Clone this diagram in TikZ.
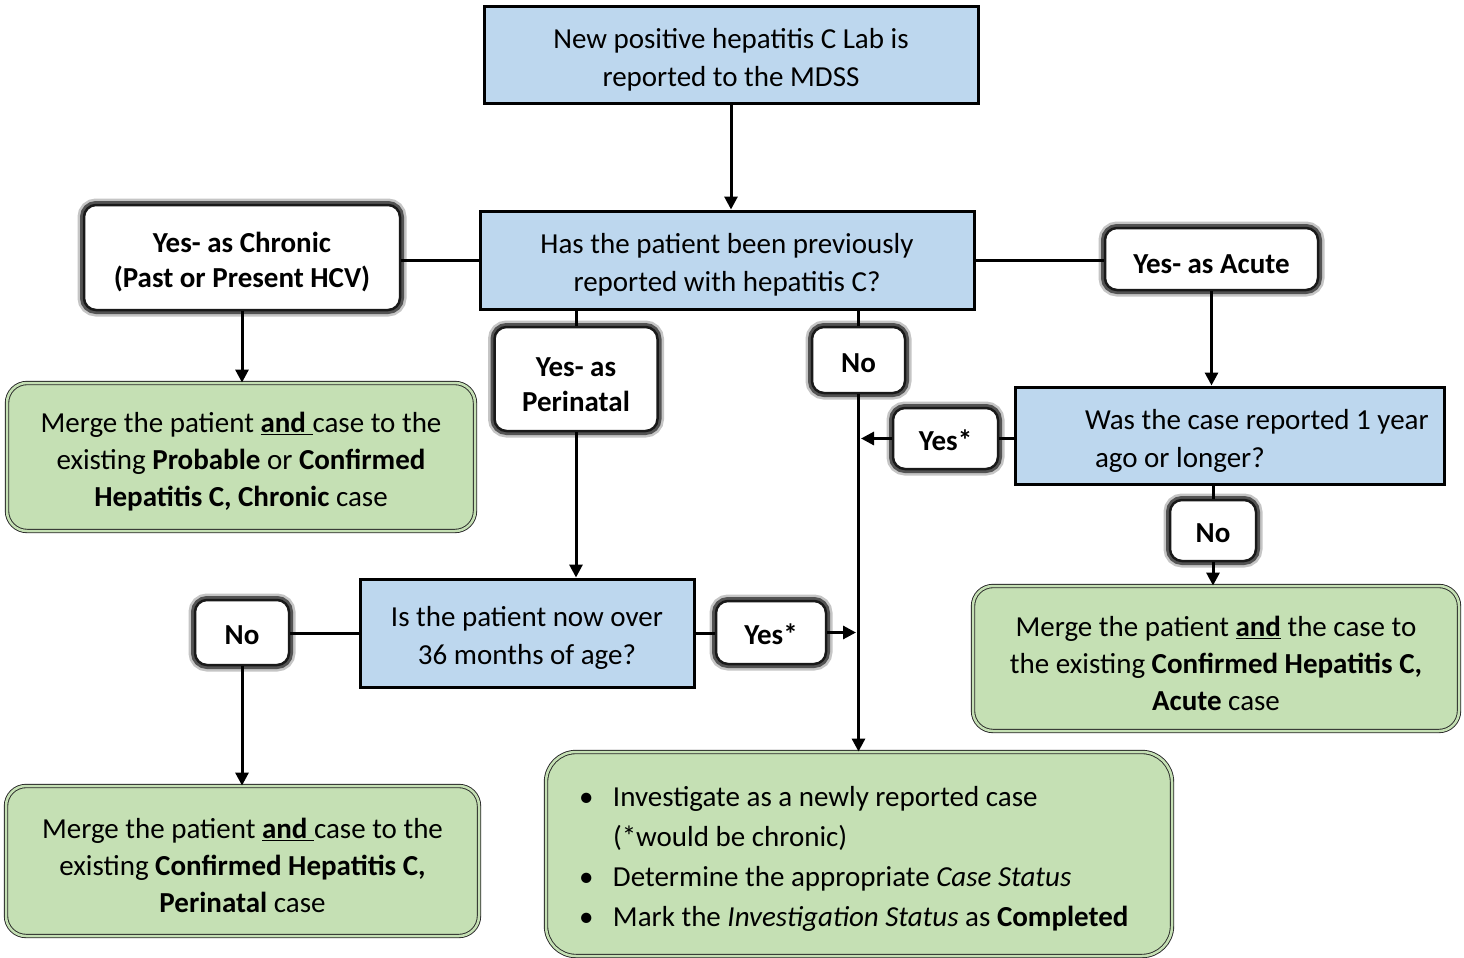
\documentclass[tikz,border=0pt]{standalone}
\usepackage{fontspec}
\setmainfont{Carlito}
\usetikzlibrary{arrows.meta}
\definecolor{qblue}{HTML}{BDD7EE}
\definecolor{rgreen}{HTML}{C5E0B4}
\newcommand\tstr{\rule{0pt}{30pt}}
\begin{document}
\begin{tikzpicture}[x=1pt,y=-1pt,
  every node/.style={font=\fontsize{29}{38}\selectfont, inner sep=0pt, align=center},
  qbox/.style={draw=black, line width=3pt, fill=qblue},
  lbl/.style={fill=white, draw=black!90, line width=2.5pt, rounded corners=12pt,
     font=\fontsize{29}{35}\selectfont\bfseries,
     preaction={draw=black!45, line width=13pt, opacity=0.5},
     preaction={draw=black!75, line width=8pt, opacity=0.85}},
  rbox/.style={fill=rgreen, draw=black!85, line width=0.9pt, double=rgreen, double distance=2.5pt,
     rounded corners=20pt, font=\fontsize{29}{37}\selectfont},
  conn/.style={line width=3pt, draw=black},
  arr/.style={conn, -{Triangle[length=13pt,width=13pt]}}]
\useasboundingbox (0,0) rectangle (1464,958);
\fill[white] (0,0) rectangle (1464,958);

% nodes
\node[qbox, minimum width=494pt, minimum height=96pt] (top) at (731,55) {\tstr New positive hepatitis C Lab is\\reported to the MDSS};
\node[qbox, minimum width=494pt, minimum height=98pt] (q1) at (727,260) {\tstr Has the patient been previously\\reported with hepatitis C?};
\node[lbl, minimum width=316pt, minimum height=105pt] (chronic) at (242,257.5) {\tstr Yes- as Chronic\\(Past or Present HCV)};
\node[rbox, minimum width=468pt, minimum height=148pt] (g1) at (241,457) {\tstr Merge the patient \underline{\textbf{and }}case to the\\existing \textbf{Probable} or \textbf{Confirmed}\\\textbf{Hepatitis C, Chronic} case};
\node[lbl, minimum width=163pt, minimum height=104pt] (peri) at (576,379) {\tstr Yes- as\\Perinatal};
\node[lbl, minimum width=93pt, minimum height=66pt] (no1) at (858.5,360) {\rule{0pt}{25pt}No};
\node[lbl, minimum width=213pt, minimum height=62pt] (acute) at (1211.5,259) {\tstr Yes- as Acute};
\node[qbox, minimum width=429pt, minimum height=97pt, text width=415pt, align=flush left] (q2) at (1229.5,435.5) {\tstr\hspace*{63pt}Was the case reported 1 year\\\hspace*{73pt}ago or longer?};
\node[lbl, minimum width=105pt, minimum height=61pt] (yes1) at (945.5,438.5) {\rule{0pt}{25pt}Yes*};
\node[lbl, minimum width=86pt, minimum height=61pt] (no2) at (1213,530.5) {\rule{0pt}{25pt}No};
\node[rbox, minimum width=486pt, minimum height=145pt] (g2) at (1216,658.5) {\tstr Merge the patient \underline{\textbf{and}} the case to\\the existing \textbf{Confirmed Hepatitis C,}\\\textbf{Acute} case};
\node[qbox, minimum width=334pt, minimum height=108pt] (q3) at (527,633) {\tstr Is the patient now over\\36 months of age?};
\node[lbl, minimum width=94pt, minimum height=65pt] (no3) at (242,632.5) {\rule{0pt}{25pt}No};
\node[lbl, minimum width=110pt, minimum height=63pt] (yes3) at (771,632.5) {\rule{0pt}{25pt}Yes*};
\node[rbox, minimum width=473pt, minimum height=150pt] (g3) at (242.5,861) {\tstr Merge the patient \underline{\textbf{and }}case to the\\existing \textbf{Confirmed Hepatitis C,}\\\textbf{Perinatal} case};
\node[rbox, rounded corners=30pt, minimum width=626pt, minimum height=204pt, text width=560pt, align=flush left, font=\fontsize{29}{40}\selectfont] (g4) at (859,854)
 {\tstr\makebox[34pt][l]{\textbullet}Investigate as a newly reported case\\
  \hspace*{34pt}(*would be chronic)\\
  \makebox[34pt][l]{\textbullet}Determine the appropriate \textit{Case Status}\\
  \makebox[34pt][l]{\textbullet}Mark the \textit{Investigation Status} as \textbf{Completed}};

\coordinate (j1) at (861,438.5);
\coordinate (j2) at (856,632.5);

% connectors
\draw[arr] (top.south) -- (top.south |- q1.north);
\draw[conn] (q1.west) -- (q1.west -| chronic.east);
\draw[arr] (chronic.south) -- (chronic.south |- g1.north);
\draw[conn] (peri.north |- q1.south) -- (peri.north);
\draw[arr] (peri.south) -- (peri.south |- q3.north);
\draw[conn] (no1.north |- q1.south) -- (no1.north);
\draw[arr] (no1.south) -- (no1.south |- g4.north);
\draw[conn] (q1.east) -- (q1.east -| acute.west);
\draw[arr] (acute.south) -- (acute.south |- q2.north);
\draw[conn] (yes1.east -| q2.west) -- (yes1.east);
\draw[arr] (yes1.west) -- (j1);
\draw[conn] (no2.north |- q2.south) -- (no2.north);
\draw[arr] (no2.south) -- (no2.south |- g2.north);
\draw[conn] (q3.west) -- (q3.west -| no3.east);
\draw[arr] (no3.south) -- (no3.south |- g3.north);
\draw[conn] (q3.east) -- (q3.east -| yes3.west);
\draw[arr] (yes3.east) -- (j2);
\end{tikzpicture}
\end{document}
